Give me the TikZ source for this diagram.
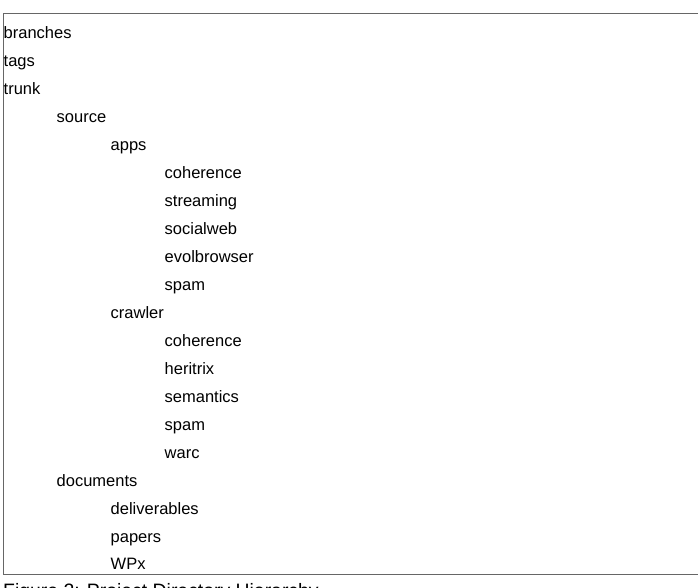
\documentclass[tikz,border=0pt]{standalone}
\usepackage{fontspec}
\setmainfont{Liberation Sans}
\begin{document}
\begin{tikzpicture}[x=1pt,y=-1pt,
 frame/.style={draw=black!60,line width=1pt},
 lv/.style={anchor=base west,inner sep=0pt,font=\fontsize{16.5}{20}\selectfont},
 captext/.style={anchor=base west,inner sep=0pt,font=\fontsize{19.4}{23}\selectfont}]
\useasboundingbox (0,0) rectangle (698,588);
\clip (0,0) rectangle (698,588);
\draw[frame] (3,13.5) rectangle (700,574);
% top level
\node[lv] (branches) at (3.5,38.3) {branches};
\node[lv] (tags) at (3.5,66.3) {tags};
\node[lv] (trunk) at (3.5,94.3) {trunk};
% trunk/source
\node[lv] (source) at (56.5,122.3) {source};
\node[lv] (apps) at (110.5,150.3) {apps};
\node[lv] (appcoh) at (164.5,178.3) {coherence};
\node[lv] (streaming) at (164.5,206.3) {streaming};
\node[lv] (socialweb) at (164.5,234.3) {socialweb};
\node[lv] (evolbrowser) at (164.5,262.3) {evolbrowser};
\node[lv] (appspam) at (164.5,290.3) {spam};
\node[lv] (crawler) at (110.5,318.3) {crawler};
\node[lv] (crawlcoh) at (164.5,346.3) {coherence};
\node[lv] (heritrix) at (164.5,374.3) {heritrix};
\node[lv] (semantics) at (164.5,402.3) {semantics};
\node[lv] (crawlspam) at (164.5,430.3) {spam};
\node[lv] (warc) at (164.5,458.3) {warc};
% trunk/documents
\node[lv] (documents) at (56.5,486.3) {documents};
\node[lv] (deliverables) at (110.5,514.3) {deliverables};
\node[lv] (papers) at (110.5,542.3) {papers};
\node[lv] (wpx) at (110.5,569.5) {WPx};
% caption, cut off by the page edge
\node[captext] (caption) at (3,597) {Figure 2: Project Directory Hierarchy};
\end{tikzpicture}
\end{document}
